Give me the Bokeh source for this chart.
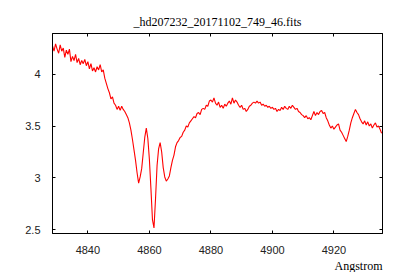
import numpy as np
from bokeh.plotting import figure
from bokeh.models import LinearAxis, FixedTicker, Range1d, Title
from bokeh.embed import file_html
from bokeh.resources import INLINE

title_text = "_hd207232_20171102_749_46.fits"
x_label = "Angstrom"
wave_start = 4828.5
wave_step = 0.5
flux = [
    4.27, 4.22, 4.29, 4.24, 4.20, 4.28, 4.22, 4.25, 4.16, 4.23,
    4.19, 4.24, 4.12, 4.17, 4.13, 4.19, 4.11, 4.15, 4.09, 4.13,
    4.10, 4.14, 4.08, 4.12, 4.05, 4.10, 4.03, 4.06, 4.02, 4.07,
    4.04, 4.09, 4.02, 4.04, 3.96, 3.91, 3.86, 3.82, 3.76, 3.78,
    3.72, 3.70, 3.66, 3.69, 3.65, 3.69, 3.66, 3.64, 3.61, 3.58,
    3.53, 3.46, 3.37, 3.27, 3.17, 3.05, 2.95, 3.01, 3.09, 3.24,
    3.39, 3.48, 3.38, 3.18, 2.90, 2.60, 2.52, 2.80, 3.12, 3.28,
    3.34, 3.25, 3.10, 3.01, 2.97, 2.99, 3.02, 3.10, 3.17, 3.22,
    3.30, 3.34, 3.36, 3.39, 3.40, 3.44, 3.46, 3.50, 3.49, 3.53,
    3.55, 3.57, 3.59, 3.58, 3.62, 3.63, 3.61, 3.66, 3.67, 3.66,
    3.70, 3.69, 3.74, 3.75, 3.73, 3.77, 3.72, 3.70, 3.73, 3.68,
    3.70, 3.67, 3.71, 3.69, 3.72, 3.74, 3.71, 3.77, 3.72, 3.75,
    3.73, 3.70, 3.68, 3.70, 3.66, 3.67, 3.64, 3.66, 3.69, 3.70,
    3.72, 3.73, 3.72, 3.74, 3.72, 3.73, 3.70, 3.71, 3.69, 3.70,
    3.68, 3.69, 3.67, 3.68, 3.66, 3.67, 3.64, 3.66, 3.65, 3.68,
    3.66, 3.69, 3.67, 3.66, 3.69, 3.67, 3.70, 3.68, 3.66, 3.67,
    3.64, 3.63, 3.61, 3.60, 3.58, 3.60, 3.57, 3.58, 3.56, 3.60,
    3.64, 3.60, 3.63, 3.61, 3.64, 3.65, 3.62, 3.63, 3.58, 3.55,
    3.51, 3.48, 3.50, 3.47, 3.49, 3.51, 3.52, 3.46, 3.44, 3.41,
    3.38, 3.35, 3.40, 3.46, 3.53, 3.58, 3.62, 3.66, 3.63, 3.61,
    3.57, 3.54, 3.52, 3.55, 3.51, 3.54, 3.50, 3.52, 3.48, 3.51,
    3.53, 3.49, 3.50, 3.47, 3.43,
]
wave = wave_start + wave_step * np.arange(len(flux))

x_ticks = [4840, 4860, 4880, 4900, 4920]
y_ticks = [2.5, 3, 3.5, 4]
y_tick_labels = ["2.5", "3", "3.5", "4"]

x_min, x_max = 4828.5, 4935.8
y_min, y_max = 2.466, 4.39

p = figure(width=390, height=272, output_backend="svg", toolbar_location=None,
           x_range=Range1d(x_min, x_max), y_range=Range1d(y_min, y_max),
           min_border_left=52, min_border_right=8, min_border_top=33,
           min_border_bottom=37)
p.grid.visible = False
p.outline_line_color = "black"
p.outline_line_width = 1
p.background_fill_color = "white"
p.border_fill_color = "white"

p.title.text = title_text
p.title.align = "center"
p.title.text_font = "Liberation Serif"
p.title.text_font_size = "12px"
p.title.text_font_style = "normal"
p.title.text_color = "black"
p.title.standoff = 9

def style_axis(ax, ticks, show_labels=True):
    ax.ticker = FixedTicker(ticks=ticks)
    ax.major_tick_in = 3
    ax.major_tick_out = 0
    ax.minor_tick_in = 0
    ax.minor_tick_out = 0
    ax.axis_line_color = "black"
    ax.major_tick_line_color = "black"
    ax.major_label_text_font = "Liberation Sans"
    ax.major_label_text_font_size = "11px" if show_labels else "0px"
    ax.major_label_text_color = "#222222"
    if not show_labels:
        ax.major_label_standoff = 0

xa = p.xaxis[0]
style_axis(xa, x_ticks)
xa.major_label_standoff = 12
style_axis(p.yaxis[0], y_ticks)
p.yaxis[0].major_label_standoff = 12
p.yaxis[0].major_label_overrides = {t: s for t, s in zip(y_ticks, y_tick_labels)}

top_ax = LinearAxis()
style_axis(top_ax, x_ticks, show_labels=False)
p.add_layout(top_ax, "above")
right_ax = LinearAxis()
style_axis(right_ax, y_ticks, show_labels=False)
p.add_layout(right_ax, "right")

xl = Title(text=x_label, align="right", text_font="Liberation Serif",
           text_font_size="12px", text_font_style="normal",
           text_color="black", standoff=0)
p.add_layout(xl, "below")

p.line(wave, flux, line_color="#ff0000", line_width=1.1)

open("out.html", "w").write(file_html(p, INLINE))
